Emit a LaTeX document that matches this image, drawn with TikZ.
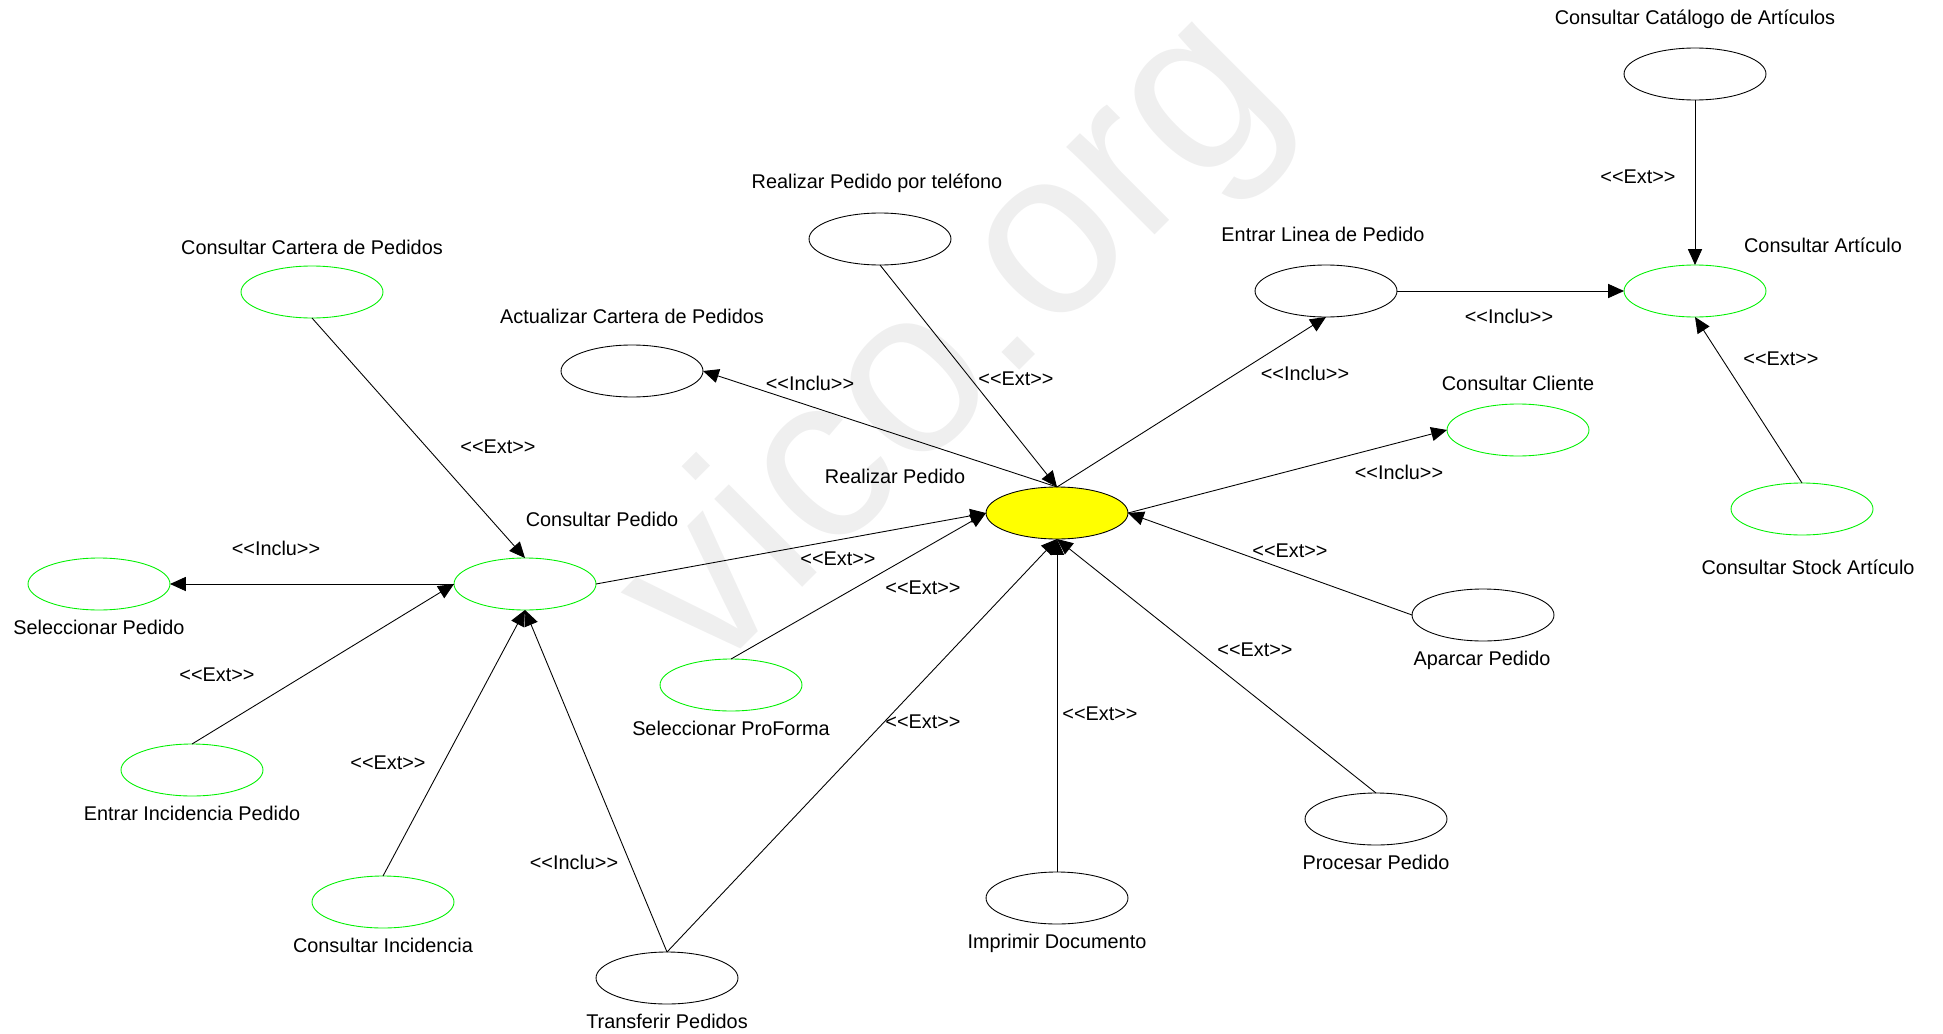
\documentclass[tikz,border=0pt]{standalone}
\usepackage{fontspec}
\setmainfont{Liberation Sans}
\usepackage{tikz}
\usetikzlibrary{arrows.meta,positioning,shapes.geometric}
\definecolor{casegreen}{HTML}{00F000}
\definecolor{caseyellow}{HTML}{FFFF00}
\definecolor{markgray}{HTML}{EFEFEF}
\tikzset{
  usecase/.style={ellipse, draw=black, line width=0.5pt, minimum width=2.84cm, minimum height=1.04cm, inner sep=0pt, outer sep=0pt},
  greencase/.style={usecase, draw=casegreen},
  maincase/.style={usecase, fill=caseyellow},
  casename/.style={font=\fontsize{11.3}{13}\selectfont, inner sep=0pt, text height=8.5pt, text depth=0.5pt},
  stereo/.style={casename},
  rel/.style={-{Triangle[length=9pt, width=8pt]}, line width=0.5pt, draw=black}
}
\newcommand{\ext}{{<}{<}Ext{>}{>}}
\newcommand{\inclu}{{<}{<}Inclu{>}{>}}

\begin{document}
\begin{tikzpicture}[x=0.02cm, y=-0.02cm]
  \useasboundingbox (0,0) rectangle (1943,1034);
  \node[rotate=45, text=markgray, font=\fontsize{134}{134}\selectfont] (mark) at (957,347) {vico.org};

  % use cases
  \node[maincase] (real) at (1057,513) {};
  \node[usecase] (cat) at (1695,74) {};
  \node[greencase] (art) at (1695,291) {};
  \node[usecase] (linea) at (1326,291) {};
  \node[usecase] (tel) at (880,239) {};
  \node[usecase] (act) at (632,371) {};
  \node[greencase] (cart) at (312,292) {};
  \node[greencase] (cli) at (1518,430) {};
  \node[greencase] (stock) at (1802,509) {};
  \node[usecase] (aparc) at (1483,615) {};
  \node[usecase] (proc) at (1376,819) {};
  \node[usecase] (impr) at (1057,898) {};
  \node[usecase] (transf) at (667,978) {};
  \node[greencase] (prof) at (731,685) {};
  \node[greencase] (cped) at (525,584) {};
  \node[greencase] (selp) at (99,584) {};
  \node[greencase] (einc) at (192,770) {};
  \node[greencase] (cinc) at (383,902) {};

  % names
  \node[casename] (realL) at ([shift={(-162,-37)}]real) {Realizar Pedido};
  \node[casename] (catL) at ([shift={(0,-57)}]cat) {Consultar Catálogo de Artículos};
  \node[casename] (artL) at ([shift={(128,-46)}]art) {Consultar Artículo};
  \node[casename] (lineaL) at ([shift={(-3,-57)}]linea) {Entrar Linea de Pedido};
  \node[casename] (telL) at ([shift={(-3,-58)}]tel) {Realizar Pedido por teléfono};
  \node[casename] (actL) at ([shift={(0,-55)}]act) {Actualizar Cartera de Pedidos};
  \node[casename] (cartL) at ([shift={(0,-45)}]cart) {Consultar Cartera de Pedidos};
  \node[casename] (cliL) at ([shift={(0,-47)}]cli) {Consultar Cliente};
  \node[casename] (stockL) at ([shift={(6,58)}]stock) {Consultar Stock Artículo};
  \node[casename] (aparcL) at ([shift={(-1,43)}]aparc) {Aparcar Pedido};
  \node[casename] (procL) at ([shift={(0,43)}]proc) {Procesar Pedido};
  \node[casename] (imprL) at ([shift={(0,43)}]impr) {Imprimir Documento};
  \node[casename] (transfL) at ([shift={(0,43)}]transf) {Transferir Pedidos};
  \node[casename] (profL) at ([shift={(0,43)}]prof) {Seleccionar ProForma};
  \node[casename] (cpedL) at ([shift={(77,-65)}]cped) {Consultar Pedido};
  \node[casename] (selpL) at ([shift={(0,43)}]selp) {Seleccionar Pedido};
  \node[casename] (eincL) at ([shift={(0,43)}]einc) {Entrar Incidencia Pedido};
  \node[casename] (cincL) at ([shift={(0,43)}]cinc) {Consultar Incidencia};

  % relations
  \draw[rel] (cat.south) -- (art.north);
  \draw[rel] (linea.east) -- (art.west);
  \draw[rel] (stock.north) -- (art.south);
  \draw[rel] (real.north) -- (linea.south);
  \draw[rel] (real.east) -- (cli.west);
  \draw[rel] (aparc.west) -- (real.east);
  \draw[rel] (proc.north) -- (real.south);
  \draw[rel] (impr.north) -- (real.south);
  \draw[rel] (transf.north) -- (real.south);
  \draw[rel] (transf.north) -- (cped.south);
  \draw[rel] (prof.north) -- (real.west);
  \draw[rel] (cped.east) -- (real.west);
  \draw[rel] (real.north) -- (act.east);
  \draw[rel] (tel.south) -- (real.north);
  \draw[rel] (cart.south) -- (cped.north);
  \draw[rel] (cped.west) -- (selp.east);
  \draw[rel] (einc.north) -- (cped.west);
  \draw[rel] (cinc.north) -- (cped.south);

  % stereotypes
  \node[stereo] (r1) at (1638,176) {\ext};
  \node[stereo] (r2) at (1509,316) {\inclu};
  \node[stereo] (r3) at (1781,358) {\ext};
  \node[stereo] (r4) at (1305,373) {\inclu};
  \node[stereo] (r5) at (1399,472) {\inclu};
  \node[stereo] (r6) at (1290,550) {\ext};
  \node[stereo] (r7) at (1255,649) {\ext};
  \node[stereo] (r8) at (1100,713) {\ext};
  \node[stereo] (r9) at (923,721) {\ext};
  \node[stereo] (r10) at (574,862) {\inclu};
  \node[stereo] (r11) at (923,587) {\ext};
  \node[stereo] (r12) at (838,558) {\ext};
  \node[stereo] (r13) at (810,383) {\inclu};
  \node[stereo] (r14) at (1016,378) {\ext};
  \node[stereo] (r15) at (498,446) {\ext};
  \node[stereo] (r16) at (276,548) {\inclu};
  \node[stereo] (r17) at (217,674) {\ext};
  \node[stereo] (r18) at (388,762) {\ext};
\end{tikzpicture}
\end{document}
